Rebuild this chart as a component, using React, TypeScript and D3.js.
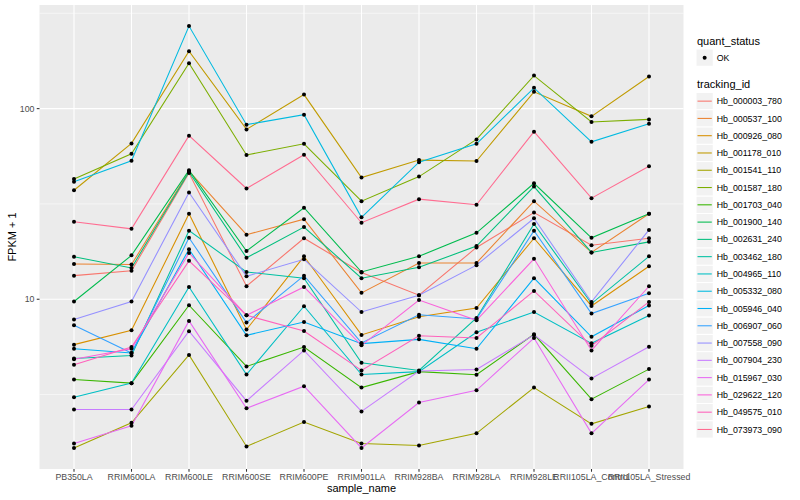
import React from "react";
import * as d3 from "d3";

const categories = [
  "PB350LA", "RRIM600LA", "RRIM600LE", "RRIM600SE", "RRIM600PE", "RRIM901LA",
  "RRIM928BA", "RRIM928LA", "RRIM928LE", "RRII105LA_Control", "RRII105LA_Stressed",
];

const trackingIds = [
  "Hb_000003_780", "Hb_000537_100", "Hb_000926_080", "Hb_001178_010", "Hb_001541_110",
  "Hb_001587_180", "Hb_001703_040", "Hb_001900_140", "Hb_002631_240", "Hb_003462_180",
  "Hb_004965_110", "Hb_005332_080", "Hb_005946_040", "Hb_006907_060", "Hb_007558_090",
  "Hb_007904_230", "Hb_015967_030", "Hb_029622_120", "Hb_049575_010", "Hb_073973_090",
];

// FPKM + 1 per sample, in category order
const hb_000003_780 = [13.3, 14.1, 45.9, 11.7, 20.9, 13.8, 10.5, 18.7, 28.5, 19.2, 20.9];
const hb_000537_100 = [15.3, 15.2, 47.0, 21.8, 26.3, 10.8, 15.5, 15.5, 32.7, 17.6, 28.1];
const hb_000926_080 = [5.78, 6.87, 28.1, 6.93, 16.8, 6.5, 8.1, 9.0, 20.9, 9.22, 14.9];
const hb_001178_010 = [37.3, 65.7, 200, 77.8, 118.5, 43.5, 53.7, 53.1, 122.5, 91.1, 147.4];
const hb_001541_110 = [1.66, 2.25, 5.1, 1.69, 2.27, 1.75, 1.71, 1.98, 3.44, 2.22, 2.74];
const hb_001587_180 = [42.7, 58.0, 173, 57.1, 65.4, 32.7, 44.0, 68.9, 149, 85.1, 87.8];
const hb_001703_040 = [3.79, 3.63, 9.3, 4.44, 5.61, 3.44, 4.17, 4.02, 6.55, 2.99, 4.30];
const hb_001900_140 = [9.73, 17.0, 47.5, 17.9, 30.2, 13.9, 16.8, 22.3, 40.6, 21.0, 28.1];
const hb_002631_240 = [16.7, 14.6, 46.5, 16.5, 23.9, 12.9, 14.7, 19.0, 39.0, 17.6, 20.0];
const hb_003462_180 = [4.89, 5.07, 22.9, 13.9, 12.9, 4.64, 4.23, 7.98, 24.8, 9.49, 16.8];
const hb_004965_110 = [3.06, 3.63, 11.6, 4.03, 9.19, 4.03, 4.17, 6.71, 8.57, 5.87, 8.21];
const hb_005332_080 = [41.3, 53.3, 271, 82.4, 93.0, 26.9, 52.4, 65.4, 128.5, 67.0, 83.4];
const hb_005946_040 = [5.5, 5.22, 18.3, 6.47, 7.6, 5.85, 6.16, 5.5, 12.9, 6.35, 9.27];
const hb_006907_060 = [7.3, 5.22, 21.0, 7.54, 13.3, 5.9, 8.3, 7.88, 22.9, 8.41, 10.75];
const hb_007558_090 = [7.82, 9.73, 36.3, 13.2, 16.2, 8.57, 10.5, 15.1, 26.6, 9.68, 23.1];
const hb_007904_230 = [2.64, 2.64, 6.8, 2.93, 5.39, 2.58, 4.2, 4.28, 6.5, 3.84, 5.64];
const hb_015967_030 = [1.75, 2.17, 7.7, 2.68, 3.5, 1.66, 2.87, 3.33, 6.26, 1.98, 3.79];
const hb_029622_120 = [4.84, 5.5, 17.5, 8.24, 11.6, 5.73, 9.9, 7.75, 16.3, 5.39, 11.7];
const hb_049575_010 = [4.53, 5.61, 15.9, 8.24, 6.81, 4.23, 6.44, 6.26, 11.06, 5.70, 9.68];
const hb_073973_090 = [25.5, 23.4, 72.1, 38.1, 57.3, 25.2, 33.5, 31.3, 75.7, 33.9, 49.9];

const seriesValues = [
  hb_000003_780, hb_000537_100, hb_000926_080, hb_001178_010, hb_001541_110,
  hb_001587_180, hb_001703_040, hb_001900_140, hb_002631_240, hb_003462_180,
  hb_004965_110, hb_005332_080, hb_005946_040, hb_006907_060, hb_007558_090,
  hb_007904_230, hb_015967_030, hb_029622_120, hb_049575_010, hb_073973_090,
];

const statusLabels = ["OK"];

const palette = [
  "#F8766D", "#EA8331", "#D89000", "#C09B00", "#A3A500", "#7CAE00", "#39B600",
  "#00BB4E", "#00BF7D", "#00C1A3", "#00BFC4", "#00BAE0", "#00B0F6", "#35A2FF",
  "#9590FF", "#C77CFF", "#E76BF3", "#FA62DB", "#FF62BC", "#FF6C91",
];

const FONT = "'Liberation Sans', Arial, Helvetica, sans-serif";

export default function App() {
  const W = 800, H = 500;
  const px0 = 39.5, px1 = 683.5, py0 = 5, py1 = 469;

  const x = d3.scalePoint<string>().domain(categories).range([px0, px1]).padding(0.6);
  const all = seriesValues.flat();
  const [lo, hi] = d3.extent(all) as [number, number];
  const l0 = Math.log10(lo), l1 = Math.log10(hi);
  const pad = (l1 - l0) * 0.05;
  const y = d3.scaleLog().domain([Math.pow(10, l0 - pad), Math.pow(10, l1 + pad)]).range([py1, py0]);

  const majors = [10, 100];
  const minors = [Math.pow(10, 0.5), Math.pow(10, 1.5), Math.pow(10, 2.5)];

  const line = d3.line<number>()
    .x((_, i) => x(categories[i]) as number)
    .y((v) => y(v));

  const legX = 696;
  const keyW = 17.28;
  const keyH = 17.28;
  const trackTop = 92.5;

  return (
    <svg width={W} height={H} style={{ position: "absolute", left: 0, top: 0, background: "#fff" }} fontFamily={FONT}>
      <rect x={0} y={0} width={W} height={H} fill="#fff" />
      <rect x={px0} y={py0} width={px1 - px0} height={py1 - py0} fill="#EBEBEB" />
      {minors.map((m) => (
        <line key={"mn" + m} x1={px0} x2={px1} y1={y(m)} y2={y(m)} stroke="#fff" strokeWidth={0.53} />
      ))}
      {majors.map((m) => (
        <line key={"mj" + m} x1={px0} x2={px1} y1={y(m)} y2={y(m)} stroke="#fff" strokeWidth={1.07} />
      ))}
      {categories.map((c) => (
        <line key={"vx" + c} x1={x(c)} x2={x(c)} y1={py0} y2={py1} stroke="#fff" strokeWidth={1.07} />
      ))}

      {seriesValues.map((vals, i) => (
        <path key={"ln" + i} d={line(vals) || ""} fill="none" stroke={palette[i]} strokeWidth={1.07} />
      ))}
      {seriesValues.map((vals, i) =>
        vals.map((v, j) => (
          <circle key={"pt" + i + "_" + j} cx={x(categories[j])} cy={y(v)} r={2} fill="#000" />
        ))
      )}

      {/* axes */}
      {majors.map((m) => (
        <g key={"yt" + m}>
          <line x1={px0 - 2.75} x2={px0} y1={y(m)} y2={y(m)} stroke="#333" strokeWidth={1.07} />
          <text x={px0 - 5} y={y(m) + 3.1} textAnchor="end" fontSize={8.8} fill="#4D4D4D">{m}</text>
        </g>
      ))}
      {categories.map((c) => (
        <g key={"xt" + c}>
          <line x1={x(c)} x2={x(c)} y1={py1} y2={py1 + 2.75} stroke="#333" strokeWidth={1.07} />
          <text x={x(c)} y={py1 + 11.2} textAnchor="middle" fontSize={8.8} fill="#4D4D4D">{c}</text>
        </g>
      ))}
      <text x={(px0 + px1) / 2} y={492} textAnchor="middle" fontSize={11} fill="#000">sample_name</text>
      <text transform={`translate(16, ${(py0 + py1) / 2}) rotate(-90)`} textAnchor="middle" fontSize={11} fill="#000">FPKM + 1</text>

      {/* legend: quant_status */}
      <text x={legX + 1} y={45} fontSize={11} fill="#000">quant_status</text>
      {statusLabels.map((s, i) => (
        <g key={"st" + s}>
          <rect x={legX} y={49 + i * keyH} width={keyW} height={keyH} fill="#F2F2F2" stroke="#fff" strokeWidth={1} />
          <circle cx={legX + keyW / 2} cy={49 + i * keyH + keyH / 2} r={2} fill="#000" />
          <text x={legX + keyW + 3.5} y={49 + i * keyH + keyH / 2 + 3.1} fontSize={8.8} fill="#000">{s}</text>
        </g>
      ))}

      {/* legend: tracking_id */}
      <text x={legX + 1} y={88} fontSize={11} fill="#000">tracking_id</text>
      {trackingIds.map((id, i) => {
        const ky = trackTop + i * keyH;
        return (
          <g key={"lg" + id}>
            <rect x={legX} y={ky} width={keyW} height={keyH} fill="#F2F2F2" stroke="#fff" strokeWidth={1} />
            <line x1={legX + 1.5} x2={legX + keyW - 1.5} y1={ky + keyH / 2} y2={ky + keyH / 2} stroke={palette[i]} strokeWidth={1.07} />
            <text x={legX + keyW + 3.5} y={ky + keyH / 2 + 3.1} fontSize={8.8} fill="#000">{id}</text>
          </g>
        );
      })}
    </svg>
  );
}
